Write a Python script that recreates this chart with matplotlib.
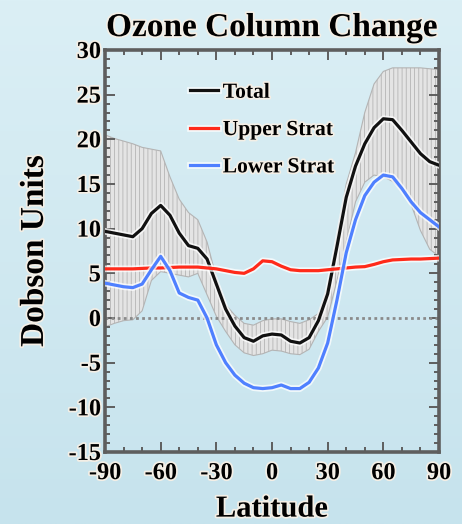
import numpy as np
import matplotlib
matplotlib.use('Agg')
import matplotlib.pyplot as plt
import matplotlib.patheffects as pe
from matplotlib.ticker import MultipleLocator

# latitude grid (deg) and ozone column change (Dobson units)
lat = [-90, -85, -80, -75, -70, -65, -60, -55, -50, -45, -40, -35, -30, -25, -20, -15, -10, -5, 0,
       5, 10, 15, 20, 25, 30, 35, 40, 45, 50, 55, 60, 65, 70, 75, 80, 85, 90]
total = [9.7, 9.5, 9.3, 9.1, 10.0, 11.7, 12.6, 11.5, 9.5, 8.1, 7.8, 6.6, 3.8, 1.0, -0.9, -2.2, -2.6, -2.0, -1.8,
         -1.9, -2.6, -2.8, -2.2, -0.3, 2.7, 8.0, 13.5, 17.0, 19.5, 21.3, 22.3, 22.2, 21.0, 19.7, 18.4, 17.5, 17.1]
upper_strat = [5.5, 5.5, 5.5, 5.5, 5.55, 5.6, 5.6, 5.65, 5.7, 5.7, 5.7, 5.6, 5.5, 5.3, 5.1, 5.0, 5.5, 6.4, 6.3,
               5.8, 5.4, 5.3, 5.3, 5.3, 5.4, 5.5, 5.6, 5.7, 5.75, 6.0, 6.3, 6.5, 6.55, 6.6, 6.6, 6.65, 6.7]
lower_strat = [3.9, 3.7, 3.5, 3.4, 3.8, 5.4, 6.9, 5.3, 2.8, 2.3, 2.0, 0.0, -3.0, -5.0, -6.4, -7.3, -7.8, -7.9, -7.8,
               -7.5, -7.9, -7.9, -7.2, -5.6, -2.8, 2.0, 7.3, 11.0, 13.7, 15.2, 16.0, 15.8, 14.5, 13.0, 11.8, 11.0, 10.2]
# spread of the total (shaded band)
band_hi = [20.5, 20.1, 19.8, 19.5, 19.1, 18.9, 18.7, 15.8, 13.3, 11.8, 11.0, 8.5, 4.5, 1.5, 0.3, -0.6, -0.8, -0.3, -0.1,
           -0.1, -0.4, -0.6, -0.2, 0.5, 3.5, 9.3, 15.0, 18.5, 23.0, 26.2, 27.6, 28.0, 28.0, 28.0, 28.0, 27.9, 27.8]
band_lo = [-1.0, -0.6, -0.3, -0.2, 0.8, 4.2, 5.2, 5.0, 4.8, 4.6, 5.0, 2.6, 0.2, -1.5, -3.0, -3.9, -4.2, -4.0, -3.6,
           -3.7, -4.0, -4.1, -3.5, -1.5, 0.1, 4.2, 8.5, 13.0, 15.2, 16.0, 15.8, 15.3, 14.3, 12.7, 9.8, 7.7, 6.9]

series = [('Total', total, '#111111'),
          ('Upper Strat', upper_strat, '#ff2a1a'),
          ('Lower Strat', lower_strat, '#4f80ff')]

plt.rcParams['axes.unicode_minus'] = False
plt.rcParams['font.family'] = 'Liberation Serif'
plt.rcParams['font.weight'] = 'bold'
plt.rcParams['axes.titleweight'] = 'bold'
plt.rcParams['axes.labelweight'] = 'bold'
plt.rcParams['hatch.color'] = '#cfcfcf'
plt.rcParams['hatch.linewidth'] = 0.6

glow = [pe.withStroke(linewidth=2.5, foreground='#f4efe6')]
halo = [pe.Stroke(linewidth=4.8, foreground='white', alpha=0.75), pe.Normal()]

fig = plt.figure(figsize=(4.62, 5.24), dpi=100)

# light blue gradient background
bg = fig.add_axes([0, 0, 1, 1], zorder=-10)
grad = np.linspace(0, 1, 256).reshape(-1, 1)
bg.imshow(grad, aspect='auto', cmap=matplotlib.colors.LinearSegmentedColormap.from_list(
    'bg', ['#dbeff5', '#c6e3ed']), extent=[0, 1, 0, 1])
bg.axis('off')

ax = fig.add_axes([0.2273, 0.1374, 0.7229, 0.7672])
ax.patch.set_alpha(0)

ax.fill_between(lat, band_lo, band_hi, facecolor='#e4e4e4', edgecolor='#b4b4b4',
                hatch='||||', linewidth=0.8, zorder=1)
ax.axhline(0, color='#8a8a8a', linestyle=(0, (1, 1.2)), linewidth=2.0, zorder=2)

for name, vals, col in series:
    ax.plot(lat, vals, color=col, linewidth=2.3, label=name, path_effects=halo, zorder=3)

ax.set_xlim(-90, 90)
ax.set_ylim(-15, 30)
ax.xaxis.set_major_locator(MultipleLocator(30))
ax.xaxis.set_minor_locator(MultipleLocator(10))
ax.yaxis.set_major_locator(MultipleLocator(5))
ax.yaxis.set_minor_locator(MultipleLocator(1))
ax.tick_params(which='both', direction='in', top=True, right=True, color='#5e5e5e', width=1.4)
ax.tick_params(which='major', length=7, labelsize=17.5)
ax.tick_params(which='minor', length=3.5)
ax.tick_params(axis='x', which='major', pad=8)
ax.tick_params(axis='y', which='major', pad=3)
for lab in ax.get_xticklabels() + ax.get_yticklabels():
    lab.set_path_effects(glow)
for sp in ax.spines.values():
    sp.set_color('#5e5e5e')
    sp.set_linewidth(2.6)

ax.set_title('Ozone Column Change', fontsize=24, pad=10, path_effects=glow)
ax.set_ylabel('Dobson Units', fontsize=24, path_effects=glow)
ax.yaxis.set_label_coords(-0.165, 0.5)
ax.set_xlabel('Latitude', fontsize=22, path_effects=glow)
ax.xaxis.set_label_coords(0.5, -0.106)

leg = ax.legend(loc='upper left', bbox_to_anchor=(0.23, 0.94), frameon=False,
                fontsize=15.5, handlelength=1.3, handletextpad=0.2, labelspacing=0.8,
                borderaxespad=0)
for t in leg.get_texts():
    t.set_path_effects(glow)

plt.savefig('out.png', dpi=100)
plt.close()
